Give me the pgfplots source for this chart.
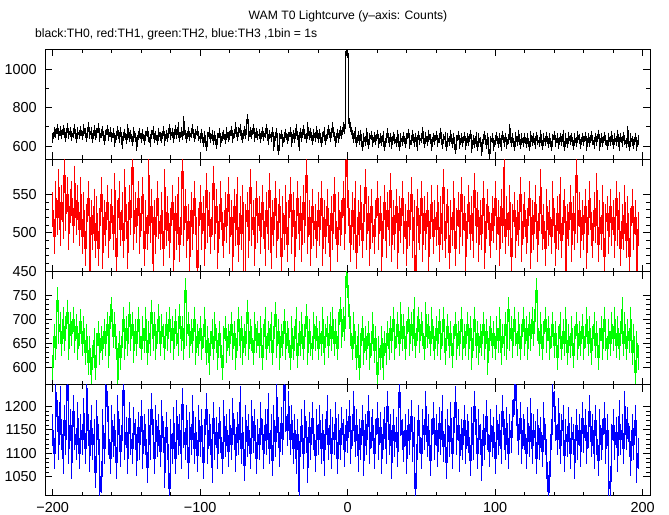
\documentclass[border=0pt]{standalone}
\usepackage{fontspec}
\setmainfont{Liberation Sans}
\usepackage{pgfplots}
\usepackage{pgfplotstable}
\pgfplotsset{compat=1.18}
\definecolor{cR}{RGB}{255,0,0}
\definecolor{cG}{RGB}{0,255,0}
\definecolor{cB}{RGB}{0,0,255}
\definecolor{cK}{RGB}{0,0,0}

\pgfplotstableread[row sep=\\]{
y\\
640\\ 672\\ 665\\ 690\\ 655\\ 678\\ 660\\ 685\\ 670\\ 648\\ 695\\ 662\\ 675\\ 650\\ 668\\ 688\\ 640\\ 672\\ 660\\ 680\\
655\\ 690\\ 668\\ 645\\ 700\\ 662\\ 675\\ 640\\ 683\\ 658\\ 670\\ 692\\ 648\\ 665\\ 678\\ 630\\ 660\\ 685\\ 650\\ 672\\
645\\ 668\\ 620\\ 655\\ 680\\ 640\\ 672\\ 610\\ 650\\ 665\\ 635\\ 690\\ 648\\ 660\\ 625\\ 675\\ 645\\ 600\\ 655\\ 668\\
640\\ 662\\ 630\\ 655\\ 675\\ 648\\ 620\\ 660\\ 680\\ 640\\ 655\\ 632\\ 670\\ 650\\ 642\\ 678\\ 628\\ 660\\ 645\\ 690\\
655\\ 670\\ 640\\ 685\\ 660\\ 700\\ 648\\ 672\\ 655\\ 730\\ 660\\ 640\\ 675\\ 650\\ 668\\ 688\\ 645\\ 662\\ 678\\ 650\\
640\\ 665\\ 620\\ 655\\ 600\\ 650\\ 672\\ 640\\ 660\\ 630\\ 655\\ 610\\ 645\\ 668\\ 620\\ 650\\ 660\\ 635\\ 672\\ 648\\
655\\ 680\\ 640\\ 665\\ 700\\ 650\\ 672\\ 690\\ 658\\ 640\\ 680\\ 662\\ 740\\ 650\\ 675\\ 660\\ 690\\ 645\\ 670\\ 655\\
662\\ 640\\ 675\\ 650\\ 668\\ 690\\ 630\\ 660\\ 645\\ 672\\ 600\\ 650\\ 668\\ 580\\ 640\\ 660\\ 620\\ 648\\ 665\\ 635\\
650\\ 672\\ 620\\ 660\\ 640\\ 690\\ 655\\ 600\\ 670\\ 645\\ 685\\ 660\\ 640\\ 700\\ 655\\ 670\\ 630\\ 665\\ 648\\ 680\\
640\\ 665\\ 620\\ 650\\ 675\\ 630\\ 660\\ 685\\ 645\\ 670\\ 700\\ 650\\ 620\\ 665\\ 640\\ 680\\ 660\\ 700\\ 690\\ 1095\\
1085\\ 720\\ 700\\ 660\\ 640\\ 675\\ 620\\ 655\\ 630\\ 660\\ 600\\ 645\\ 625\\ 670\\ 610\\ 640\\ 655\\ 620\\ 648\\ 630\\
660\\ 615\\ 640\\ 625\\ 655\\ 600\\ 640\\ 668\\ 620\\ 645\\ 610\\ 650\\ 635\\ 620\\ 660\\ 600\\ 640\\ 625\\ 650\\ 615\\
640\\ 665\\ 610\\ 630\\ 660\\ 620\\ 645\\ 600\\ 655\\ 630\\ 640\\ 675\\ 615\\ 650\\ 625\\ 660\\ 635\\ 600\\ 645\\ 630\\
655\\ 620\\ 640\\ 670\\ 610\\ 635\\ 650\\ 600\\ 640\\ 625\\ 660\\ 615\\ 645\\ 585\\ 630\\ 655\\ 610\\ 640\\ 620\\ 650\\
605\\ 640\\ 625\\ 660\\ 590\\ 630\\ 615\\ 650\\ 600\\ 640\\ 620\\ 575\\ 635\\ 655\\ 610\\ 645\\ 560\\ 625\\ 640\\ 600\\
630\\ 650\\ 615\\ 640\\ 600\\ 655\\ 620\\ 645\\ 610\\ 635\\ 690\\ 620\\ 640\\ 600\\ 650\\ 625\\ 660\\ 610\\ 640\\ 620\\
645\\ 615\\ 640\\ 600\\ 655\\ 625\\ 640\\ 610\\ 650\\ 630\\ 620\\ 660\\ 605\\ 640\\ 625\\ 650\\ 615\\ 640\\ 600\\ 635\\
655\\ 620\\ 640\\ 610\\ 645\\ 625\\ 660\\ 600\\ 640\\ 615\\ 650\\ 630\\ 645\\ 605\\ 640\\ 620\\ 655\\ 635\\ 610\\ 645\\
625\\ 650\\ 600\\ 640\\ 620\\ 655\\ 630\\ 610\\ 645\\ 625\\ 660\\ 600\\ 640\\ 620\\ 650\\ 630\\ 605\\ 645\\ 625\\ 655\\
610\\ 640\\ 625\\ 660\\ 600\\ 645\\ 620\\ 650\\ 630\\ 615\\ 680\\ 600\\ 640\\ 625\\ 610\\ 645\\ 600\\ 630\\
}\thzero

\pgfplotstableread[row sep=\\]{
y\\
530\\ 495\\ 545\\ 520\\ 560\\ 505\\ 540\\ 515\\ 575\\ 525\\ 550\\ 500\\ 535\\ 545\\ 510\\ 565\\ 520\\ 540\\ 505\\ 550\\
495\\ 530\\ 480\\ 515\\ 545\\ 448\\ 520\\ 500\\ 535\\ 490\\ 525\\ 480\\ 510\\ 550\\ 475\\ 520\\ 505\\ 540\\ 490\\ 515\\
535\\ 500\\ 555\\ 470\\ 520\\ 545\\ 505\\ 530\\ 490\\ 560\\ 515\\ 475\\ 540\\ 520\\ 585\\ 500\\ 530\\ 510\\ 545\\ 495\\
525\\ 550\\ 480\\ 520\\ 500\\ 575\\ 510\\ 535\\ 460\\ 520\\ 495\\ 545\\ 515\\ 500\\ 530\\ 480\\ 560\\ 505\\ 525\\ 490\\
510\\ 540\\ 465\\ 525\\ 500\\ 550\\ 485\\ 520\\ 580\\ 505\\ 535\\ 490\\ 515\\ 470\\ 530\\ 500\\ 545\\ 520\\ 455\\ 510\\
540\\ 500\\ 525\\ 480\\ 555\\ 510\\ 530\\ 495\\ 520\\ 565\\ 500\\ 535\\ 475\\ 515\\ 545\\ 505\\ 490\\ 530\\ 510\\ 550\\
495\\ 520\\ 470\\ 535\\ 505\\ 550\\ 485\\ 525\\ 500\\ 540\\ 447\\ 515\\ 530\\ 490\\ 560\\ 505\\ 520\\ 480\\ 545\\ 510\\
525\\ 495\\ 540\\ 515\\ 480\\ 530\\ 500\\ 555\\ 475\\ 520\\ 505\\ 545\\ 490\\ 515\\ 535\\ 470\\ 525\\ 500\\ 540\\ 485\\
520\\ 550\\ 495\\ 530\\ 470\\ 515\\ 545\\ 500\\ 525\\ 485\\ 540\\ 510\\ 575\\ 495\\ 520\\ 480\\ 535\\ 505\\ 515\\ 490\\
530\\ 505\\ 545\\ 480\\ 520\\ 495\\ 535\\ 510\\ 470\\ 525\\ 500\\ 550\\ 515\\ 485\\ 530\\ 505\\ 520\\ 545\\ 500\\ 595\\
555\\ 510\\ 485\\ 530\\ 500\\ 545\\ 475\\ 520\\ 505\\ 540\\ 490\\ 515\\ 560\\ 500\\ 525\\ 480\\ 535\\ 510\\ 495\\ 520\\
545\\ 500\\ 525\\ 470\\ 515\\ 540\\ 490\\ 530\\ 505\\ 555\\ 485\\ 520\\ 500\\ 535\\ 475\\ 525\\ 510\\ 545\\ 495\\ 515\\
480\\ 530\\ 505\\ 550\\ 490\\ 520\\ 449\\ 535\\ 510\\ 500\\ 545\\ 485\\ 525\\ 500\\ 530\\ 470\\ 515\\ 540\\ 495\\ 520\\
505\\ 540\\ 485\\ 525\\ 500\\ 560\\ 490\\ 515\\ 535\\ 475\\ 520\\ 505\\ 545\\ 480\\ 510\\ 530\\ 495\\ 550\\ 505\\ 525\\
470\\ 515\\ 540\\ 500\\ 525\\ 490\\ 555\\ 510\\ 530\\ 485\\ 520\\ 500\\ 545\\ 475\\ 515\\ 535\\ 505\\ 490\\ 525\\ 510\\
545\\ 500\\ 520\\ 480\\ 535\\ 510\\ 585\\ 495\\ 525\\ 505\\ 540\\ 470\\ 515\\ 530\\ 490\\ 520\\ 505\\ 550\\ 485\\ 515\\
530\\ 495\\ 510\\ 545\\ 475\\ 520\\ 500\\ 540\\ 515\\ 485\\ 525\\ 560\\ 500\\ 515\\ 480\\ 535\\ 505\\ 520\\ 495\\ 545\\
510\\ 480\\ 525\\ 500\\ 550\\ 490\\ 520\\ 535\\ 446\\ 515\\ 505\\ 540\\ 485\\ 525\\ 500\\ 575\\ 510\\ 530\\ 490\\ 520\\
500\\ 535\\ 475\\ 520\\ 545\\ 505\\ 490\\ 530\\ 510\\ 555\\ 485\\ 520\\ 500\\ 540\\ 470\\ 515\\ 525\\ 495\\ 535\\ 505\\
520\\ 490\\ 545\\ 505\\ 530\\ 480\\ 515\\ 500\\ 540\\ 490\\ 525\\ 470\\ 510\\ 535\\ 500\\ 520\\ 445\\ 505\\
}\thone

\pgfplotstableread[row sep=\\]{
y\\
600\\ 665\\ 640\\ 740\\ 675\\ 690\\ 650\\ 700\\ 660\\ 680\\ 715\\ 640\\ 690\\ 670\\ 700\\ 655\\ 685\\ 640\\ 670\\ 695\\
650\\ 680\\ 630\\ 665\\ 610\\ 640\\ 585\\ 620\\ 655\\ 600\\ 645\\ 670\\ 630\\ 660\\ 640\\ 675\\ 650\\ 690\\ 625\\ 705\\
720\\ 665\\ 690\\ 640\\ 575\\ 650\\ 620\\ 665\\ 700\\ 640\\ 680\\ 650\\ 710\\ 660\\ 690\\ 635\\ 675\\ 650\\ 700\\ 665\\
640\\ 680\\ 655\\ 700\\ 630\\ 670\\ 650\\ 715\\ 660\\ 690\\ 640\\ 675\\ 705\\ 650\\ 685\\ 665\\ 640\\ 690\\ 660\\ 700\\
655\\ 680\\ 640\\ 695\\ 670\\ 650\\ 705\\ 660\\ 680\\ 640\\ 760\\ 670\\ 690\\ 645\\ 675\\ 655\\ 700\\ 630\\ 665\\ 650\\
680\\ 640\\ 665\\ 700\\ 630\\ 660\\ 610\\ 650\\ 675\\ 640\\ 690\\ 655\\ 620\\ 670\\ 645\\ 600\\ 660\\ 680\\ 635\\ 665\\
650\\ 690\\ 640\\ 670\\ 620\\ 660\\ 700\\ 645\\ 680\\ 630\\ 665\\ 650\\ 715\\ 640\\ 675\\ 660\\ 630\\ 690\\ 655\\ 670\\
645\\ 680\\ 620\\ 665\\ 700\\ 640\\ 670\\ 655\\ 690\\ 630\\ 660\\ 710\\ 645\\ 675\\ 620\\ 665\\ 650\\ 695\\ 640\\ 670\\
655\\ 620\\ 680\\ 640\\ 660\\ 700\\ 625\\ 670\\ 650\\ 690\\ 640\\ 665\\ 705\\ 630\\ 675\\ 650\\ 640\\ 690\\ 660\\ 680\\
640\\ 670\\ 650\\ 700\\ 630\\ 665\\ 680\\ 645\\ 690\\ 660\\ 700\\ 650\\ 675\\ 640\\ 690\\ 720\\ 665\\ 700\\ 680\\ 790\\
770\\ 705\\ 670\\ 640\\ 690\\ 650\\ 620\\ 665\\ 600\\ 645\\ 680\\ 630\\ 660\\ 640\\ 670\\ 620\\ 650\\ 690\\ 635\\ 660\\
585\\ 640\\ 620\\ 660\\ 600\\ 650\\ 630\\ 670\\ 640\\ 680\\ 655\\ 700\\ 640\\ 665\\ 690\\ 650\\ 710\\ 660\\ 685\\ 640\\
670\\ 700\\ 650\\ 690\\ 660\\ 720\\ 645\\ 680\\ 700\\ 655\\ 690\\ 670\\ 640\\ 710\\ 665\\ 685\\ 650\\ 700\\ 660\\ 640\\
680\\ 650\\ 695\\ 640\\ 670\\ 700\\ 630\\ 660\\ 685\\ 645\\ 670\\ 625\\ 660\\ 690\\ 640\\ 670\\ 650\\ 700\\ 640\\ 665\\
650\\ 690\\ 640\\ 680\\ 620\\ 660\\ 700\\ 645\\ 670\\ 630\\ 665\\ 650\\ 690\\ 640\\ 675\\ 610\\ 660\\ 680\\ 645\\ 670\\
640\\ 680\\ 655\\ 700\\ 630\\ 665\\ 650\\ 690\\ 640\\ 720\\ 660\\ 680\\ 645\\ 700\\ 670\\ 650\\ 690\\ 640\\ 665\\ 700\\
650\\ 680\\ 640\\ 690\\ 660\\ 700\\ 670\\ 720\\ 760\\ 680\\ 650\\ 690\\ 640\\ 670\\ 700\\ 655\\ 680\\ 640\\ 665\\ 690\\
645\\ 670\\ 620\\ 660\\ 690\\ 640\\ 675\\ 650\\ 700\\ 630\\ 665\\ 645\\ 680\\ 625\\ 660\\ 690\\ 640\\ 670\\ 650\\ 685\\
640\\ 665\\ 700\\ 650\\ 680\\ 630\\ 660\\ 690\\ 645\\ 670\\ 620\\ 655\\ 680\\ 640\\ 700\\ 660\\ 640\\ 675\\ 650\\ 690\\
660\\ 700\\ 645\\ 680\\ 640\\ 670\\ 720\\ 650\\ 690\\ 640\\ 675\\ 655\\ 700\\ 630\\ 665\\ 590\\ 650\\ 620\\
}\thtwo

\pgfplotstableread[row sep=\\]{
y\\
1150\\ 1100\\ 1230\\ 1180\\ 1120\\ 1210\\ 1140\\ 1090\\ 1170\\ 1130\\ 1245\\ 1110\\ 1160\\ 1080\\ 1190\\ 1140\\ 1120\\ 1175\\ 1100\\ 1150\\
1130\\ 1185\\ 1110\\ 1240\\ 1150\\ 1095\\ 1170\\ 1120\\ 1140\\ 1060\\ 1180\\ 1130\\ 1020\\ 1050\\ 1160\\ 1110\\ 1245\\ 1200\\ 1130\\ 1090\\
1170\\ 1125\\ 1150\\ 1080\\ 1190\\ 1140\\ 1105\\ 1160\\ 1235\\ 1120\\ 1145\\ 1090\\ 1175\\ 1130\\ 1110\\ 1165\\ 1140\\ 1085\\ 1155\\ 1120\\
1180\\ 1100\\ 1150\\ 1130\\ 1070\\ 1160\\ 1120\\ 1195\\ 1140\\ 1090\\ 1170\\ 1125\\ 1150\\ 1105\\ 1180\\ 1135\\ 1060\\ 1155\\ 1120\\ 1025\\
1140\\ 1110\\ 1165\\ 1090\\ 1180\\ 1130\\ 1150\\ 1100\\ 1205\\ 1145\\ 1120\\ 1170\\ 1080\\ 1155\\ 1130\\ 1190\\ 1110\\ 1145\\ 1095\\ 1170\\
1125\\ 1160\\ 1080\\ 1140\\ 1195\\ 1110\\ 1150\\ 1130\\ 1070\\ 1175\\ 1120\\ 1145\\ 1100\\ 1165\\ 1135\\ 1090\\ 1180\\ 1125\\ 1150\\ 1105\\
1160\\ 1120\\ 1185\\ 1140\\ 1095\\ 1155\\ 1130\\ 1210\\ 1110\\ 1145\\ 1075\\ 1170\\ 1125\\ 1150\\ 1100\\ 1180\\ 1135\\ 1160\\ 1090\\ 1140\\
1120\\ 1175\\ 1140\\ 1100\\ 1160\\ 1130\\ 1195\\ 1110\\ 1150\\ 1085\\ 1170\\ 1125\\ 1220\\ 1145\\ 1105\\ 1165\\ 1130\\ 1245\\ 1180\\ 1150\\
1200\\ 1130\\ 1170\\ 1110\\ 1150\\ 1090\\ 1140\\ 1020\\ 1125\\ 1160\\ 1100\\ 1180\\ 1135\\ 1070\\ 1155\\ 1120\\ 1175\\ 1140\\ 1095\\ 1160\\
1130\\ 1170\\ 1110\\ 1150\\ 1085\\ 1140\\ 1190\\ 1120\\ 1160\\ 1100\\ 1145\\ 1130\\ 1175\\ 1090\\ 1150\\ 1120\\ 1165\\ 1140\\ 1105\\ 1160\\
1135\\ 1180\\ 1110\\ 1150\\ 1200\\ 1125\\ 1160\\ 1095\\ 1140\\ 1120\\ 1170\\ 1085\\ 1150\\ 1130\\ 1190\\ 1110\\ 1145\\ 1160\\ 1100\\ 1140\\
1175\\ 1120\\ 1155\\ 1090\\ 1140\\ 1165\\ 1110\\ 1200\\ 1130\\ 1150\\ 1080\\ 1160\\ 1125\\ 1145\\ 1105\\ 1230\\ 1170\\ 1140\\ 1115\\ 1150\\
1090\\ 1160\\ 1130\\ 1180\\ 1115\\ 1145\\ 1025\\ 1120\\ 1170\\ 1135\\ 1100\\ 1160\\ 1140\\ 1200\\ 1125\\ 1150\\ 1085\\ 1140\\ 1175\\ 1120\\
1150\\ 1105\\ 1165\\ 1130\\ 1190\\ 1115\\ 1140\\ 1080\\ 1160\\ 1125\\ 1175\\ 1100\\ 1145\\ 1210\\ 1130\\ 1160\\ 1095\\ 1140\\ 1120\\ 1170\\
1110\\ 1150\\ 1135\\ 1085\\ 1165\\ 1120\\ 1200\\ 1140\\ 1100\\ 1160\\ 1130\\ 1075\\ 1150\\ 1120\\ 1180\\ 1140\\ 1105\\ 1160\\ 1125\\ 1145\\
1090\\ 1170\\ 1130\\ 1150\\ 1110\\ 1190\\ 1140\\ 1120\\ 1165\\ 1100\\ 1150\\ 1135\\ 1180\\ 1215\\ 1245\\ 1160\\ 1130\\ 1175\\ 1110\\ 1150\\
1140\\ 1100\\ 1165\\ 1125\\ 1185\\ 1110\\ 1150\\ 1135\\ 1090\\ 1160\\ 1120\\ 1145\\ 1105\\ 1175\\ 1130\\ 1080\\ 1020\\ 1050\\ 1140\\ 1230\\
1200\\ 1160\\ 1130\\ 1185\\ 1110\\ 1150\\ 1170\\ 1095\\ 1140\\ 1125\\ 1165\\ 1100\\ 1145\\ 1130\\ 1080\\ 1160\\ 1120\\ 1150\\ 1105\\ 1175\\
1135\\ 1160\\ 1110\\ 1145\\ 1190\\ 1125\\ 1150\\ 1100\\ 1170\\ 1130\\ 1085\\ 1160\\ 1120\\ 1140\\ 1175\\ 1110\\ 1150\\ 1025\\ 1040\\ 1130\\
1160\\ 1120\\ 1145\\ 1095\\ 1180\\ 1130\\ 1150\\ 1110\\ 1200\\ 1140\\ 1165\\ 1125\\ 1085\\ 1150\\ 1120\\ 1170\\ 1070\\ 1100\\
}\ththree

\pgfplotsset{
  panel/.style={
    at={(45.3bp,#1)}, anchor=south west,
    scale only axis, width=604.7bp,
    xmin=-205, xmax=205,
    xtick={-200,-100,0,100,200},
    minor x tick num=4,
    xticklabels={},
    tick align=inside,
    major tick length=7bp, minor tick length=4bp,
    axis line style={line width=1bp},
    every tick/.style={line width=1bp, cK},
    tick label style={font=\fontsize{14.5}{16}\selectfont},
    yticklabel style={xshift=-5bp},
    /pgf/number format/assume math mode=true,
    /pgf/number format/1000 sep={},
    clip=true, clip marker paths=true,
  },
  lc/.style={const plot mark mid, line width=0.6bp,
    mark=|, mark size=#1, mark options={line width=0.9bp}},
}

\begin{document}
\begin{tikzpicture}
\useasboundingbox (0,0) rectangle (669bp,515bp);

\begin{axis}[panel=355.7bp, height=110bp, ymin=531, ymax=1104,
  ytick={600,800,1000}, minor y tick num=1]
\addplot[color=cK, lc=4.9bp] table[x expr=\coordindex-200, y=y] {\thzero};
\end{axis}

\begin{axis}[panel=243bp, height=112.7bp, ymin=449, ymax=596,
  ytick={450,500,550}, minor y tick num=4]
\addplot[color=cR, lc=17.4bp] table[x expr=\coordindex-200, y=y] {\thone};
\end{axis}

\begin{axis}[panel=130bp, height=113bp, ymin=563, ymax=798,
  ytick={600,650,700,750}, minor y tick num=4]
\addplot[color=cG, lc=12.4bp] table[x expr=\coordindex-200, y=y] {\thtwo};
\end{axis}

\begin{axis}[panel=19bp, height=111bp, ymin=1009, ymax=1246,
  ytick={1050,1100,1150,1200}, minor y tick num=4,
  xticklabels={−200,−100,0,100,200},
  xticklabel style={yshift=-2.5bp}]
\addplot[color=cB, lc=15.8bp] table[x expr=\coordindex-200, y=y] {\ththree};
\end{axis}

\node[anchor=base, inner sep=0, font=\fontsize{12.2}{14}\selectfont] at (348bp,495bp) {WAM T0 Lightcurve (y\textendash axis: Counts)};
\node[anchor=base west, inner sep=0, font=\fontsize{12.2}{14}\selectfont] at (35bp,477bp) {black:TH0, red:TH1, green:TH2, blue:TH3 ,1bin = 1s};
\end{tikzpicture}
\end{document}
